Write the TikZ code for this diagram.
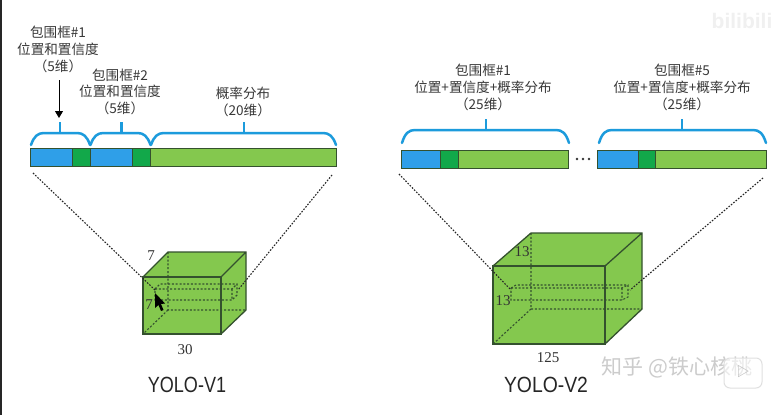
\documentclass[tikz,border=0pt]{standalone}
\usepackage{fontspec}
\newfontfamily\cjk{Noto Sans CJK SC}
\newfontfamily\numfont{Liberation Serif}
\newfontfamily\titlefont{Liberation Sans}
\usetikzlibrary{arrows.meta}
\definecolor{barblue}{HTML}{2F9FE8}
\definecolor{bardark}{HTML}{12A84A}
\definecolor{bargreen}{HTML}{84C84E}
\definecolor{bracecol}{HTML}{1C9BDC}
\definecolor{edgecol}{HTML}{34512E}
\tikzset{
  lab/.style={font=\cjk\fontsize{13.6}{13.6}\selectfont, text=black!78, inner sep=0pt, anchor=center},
  num/.style={font=\numfont\fontsize{15}{15}\selectfont, text=black!80, inner sep=0pt},
  ttl/.style={font=\titlefont\fontsize{22}{22}\selectfont, text=black!85, inner sep=0pt},
  cell/.style={draw=edgecol, line width=1pt},
  brace/.style={draw=bracecol, line width=2.5pt, line cap=round},
  guide/.style={draw=black!85, line width=1.1pt, dash pattern=on 1.6pt off 1.5pt},
  cube/.style={draw=edgecol, line width=1.3pt},
  hid/.style={draw=edgecol, line width=1.1pt, dash pattern=on 2pt off 1.8pt},
  wm/.style={font=\cjk\fontsize{21}{21}\selectfont, text=black!20, inner sep=0pt},
}
\newcommand{\barrow}[6]{% x0 x1 x2 x3 ytop ybot
  \fill[barblue] (#1,#5) rectangle (#2,#6);
  \fill[bardark] (#2,#5) rectangle (#3,#6);
  \fill[bargreen] (#3,#5) rectangle (#4,#6);
  \draw[cell] (#1,#5) rectangle (#4,#6);
  \draw[cell] (#2,#5) -- (#2,#6) (#3,#5) -- (#3,#6);
}
\newcommand{\bracket}[5]{% x0 x1 tick ytop ybot
  \draw[brace] (#1,#5) .. controls (#1+3,#4+3) and (#1+7,#4) .. (#1+13,#4)
     -- (#2-13,#4) .. controls (#2-7,#4) and (#2-3,#4+3) .. (#2,#5);
  \draw[brace, line cap=butt] (#3,#4) -- (#3,#4-11);
}
\begin{document}
\begin{tikzpicture}[x=1pt,y=-1pt]
\useasboundingbox (0,0) rectangle (772,415);
\fill[white] (0,0) rectangle (772,415);
\fill[black!85] (0,0) rectangle (2,415);

% --- V1 bar
\fill[barblue] (30,148) rectangle (72.5,166);
\fill[bardark] (72.5,148) rectangle (90,166);
\fill[barblue] (90,148) rectangle (132,166);
\fill[bardark] (132,148) rectangle (150.5,166);
\fill[bargreen] (150.5,148) rectangle (336,166);
\draw[cell] (30,148) rectangle (336,166);
\foreach \xx in {72.5,90,132,150.5} \draw[cell] (\xx,148) -- (\xx,166);
\bracket{31}{90}{60}{133}{145}
\bracket{90.5}{150.5}{121.5}{133}{145}
\bracket{151}{336}{244}{133}{145}

% --- V2 bars
\barrow{401}{440}{458}{568}{150}{168}
\barrow{597}{638}{655}{766}{150}{168}
\bracket{402}{569}{486}{130}{143}
\bracket{599}{766}{682}{130}{143}
\foreach \xx in {577,583,589} \fill[black!80] (\xx,159) circle (1.3pt);

% --- V1 cube
\fill[bargreen] (143,277) -- (168,252) -- (246,252) -- (246,310) -- (221,334) -- (143,334) -- cycle;
\draw[hid] (168,252) -- (168,310) -- (246,310) (168,310) -- (143,334);
\draw[hid] (155,289) -- (160,284) -- (237,284) -- (237,295) -- (232,300) -- (155,300) -- cycle;
\draw[hid] (155,289) -- (232,289) -- (237,284) (232,289) -- (232,300);
\draw[cube] (143,277) rectangle (221,334);
\draw[cube] (143,277) -- (168,252) -- (246,252) -- (246,310) -- (221,334) (221,277) -- (246,252);
\coordinate (a1) at (33,173); \coordinate (a2) at (155,290);
\coordinate (b1) at (332,175); \coordinate (b2) at (238,290);
\draw[guide] (a1) -- (a2);
\draw[guide] (b1) -- (b2);

% --- V2 cube
\fill[bargreen] (493,266) -- (531,233) -- (642,233) -- (642,309) -- (605,344) -- (493,344) -- cycle;
\draw[hid] (531,233) -- (531,309) -- (642,309) (531,309) -- (493,344);
\draw[hid] (511,288) -- (516,285) -- (628,285) -- (628,297) -- (622,300) -- (511,300) -- cycle;
\draw[hid] (511,288) -- (622,288) -- (628,285) (622,288) -- (622,300);
\draw[cube] (493,266) rectangle (605,344);
\draw[cube] (493,266) -- (531,233) -- (642,233) -- (642,309) -- (605,344) (605,266) -- (642,233);
\coordinate (c1) at (399,174); \coordinate (c2) at (511,290);
\coordinate (d1) at (763,178); \coordinate (d2) at (630,290);
\draw[guide] (c1) -- (c2);
\draw[guide] (d1) -- (d2);

% --- labels
\node[lab] (t1a) at (58,32) {包围框\#1};
\node[lab] (t1b) at (58,49) {位置和置信度};
\node[lab] (t1c) at (58,66) {（5维）};
\node[lab] (t2a) at (120,75) {包围框\#2};
\node[lab] (t2b) at (120,91) {位置和置信度};
\node[lab] (t2c) at (120,108) {（5维）};
\node[lab] (t3a) at (243,93) {概率分布};
\node[lab] (t3b) at (243,110) {（20维）};
\node[lab] (t4a) at (483,70) {包围框\#1};
\node[lab] (t4b) at (483,87) {位置+置信度+概率分布};
\node[lab] (t4c) at (483,104) {（25维）};
\node[lab] (t5a) at (682,70) {包围框\#5};
\node[lab] (t5b) at (682,87) {位置+置信度+概率分布};
\node[lab] (t5c) at (682,104) {（25维）};

\coordinate (ar1) at (59,80);
\coordinate (ar2) at (59,118);
\draw[black, line width=1pt, -{Triangle[length=7pt,width=8pt]}] (ar1) -- (ar2);

\node[num] (n1) at (151,256) {7};
\node[num] (n2) at (149,305) {7};
\node[num] (n3) at (185,350) {30};
\node[num] (n4) at (522,252) {13};
\node[num] (n5) at (503,301) {13};
\node[num] (n6) at (548,358) {125};
\node[ttl,xscale=0.82] (y1) at (187,385) {YOLO-V1};
\node[ttl,xscale=0.88] (y2) at (546,385) {YOLO-V2};

% --- cursor
\fill[black] (155,293) -- (155,308) -- (158.5,305) -- (161,311) -- (163.5,310) -- (161,304) -- (165,303.5) -- cycle;

% --- watermarks
\node[wm] (w1) at (677,367) {知乎 @铁心核桃};
\draw[black!12, line width=1pt, fill=white, fill opacity=0.6, rounded corners=6pt] (724,358) rectangle (762,388);
\node[font=\cjk\fontsize{13}{13}\selectfont, text=black!30, inner sep=0pt] (w2) at (743,372) {▷};
\node[font=\titlefont\bfseries\fontsize{21}{21}\selectfont, text=black!6, inner sep=0pt] (w3) at (742,21) {bilibili};
\end{tikzpicture}
\end{document}
